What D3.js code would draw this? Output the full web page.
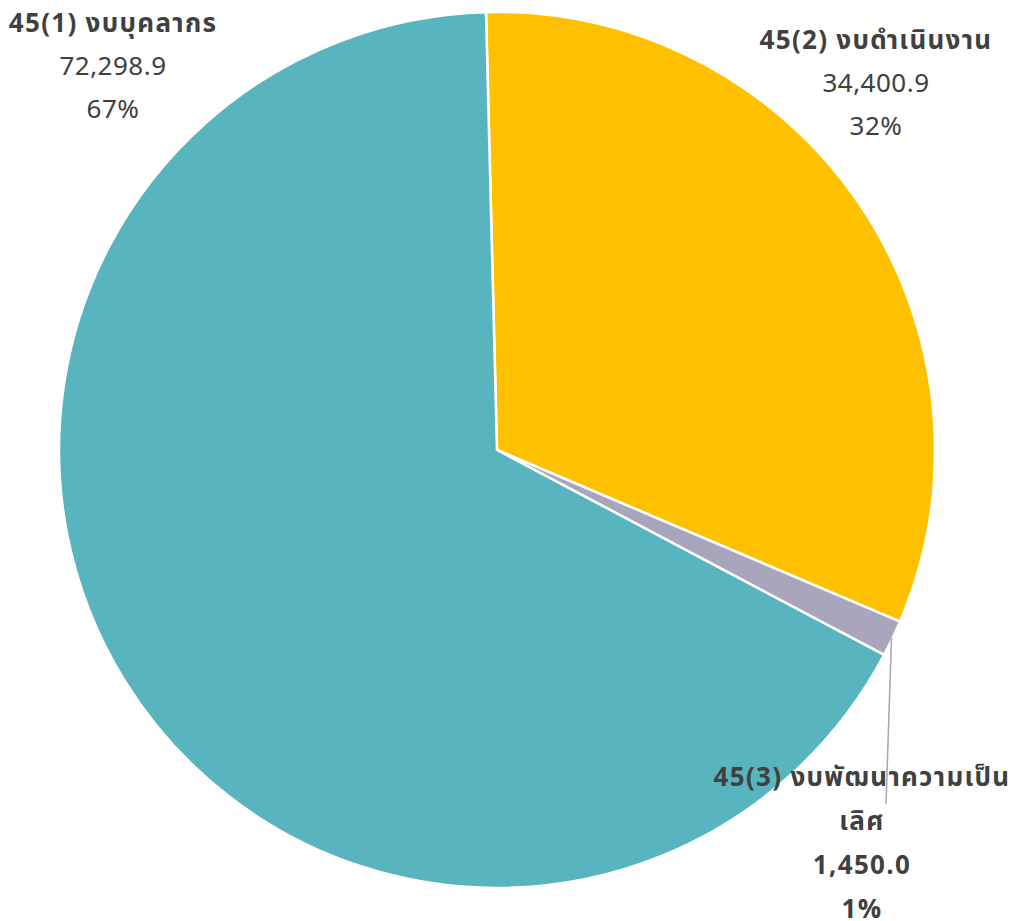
<!DOCTYPE html>
<html>
<head>
<meta charset="utf-8">
<script src="https://cdnjs.cloudflare.com/ajax/libs/d3/7.8.5/d3.min.js"></script>
<style>
  body { margin: 0; background: #fff; }
  text { font-family: "Noto Sans Thai", "Noto Sans", "DejaVu Sans", sans-serif; fill: #404040; }
</style>
</head>
<body>
<div class="chart"></div>
<script>
'use strict';

const width = 1020;
const height = 921;

// data
const categories = ['45(2) งบดำเนินงาน', '45(3) งบพัฒนาความเป็นเลิศ', '45(1) งบบุคลากร'];
const values = [34400.9, 1450.0, 72298.9];
const percents = ['32%', '1%', '67%'];
const colors = ['#FFC000', '#A9A5BC', '#58B5BF'];

// label layout (anchor x, first line y, line gap, bold rows)
const labelLayout = [
    {x: 876, y: 40, gap: 43, lines: d => [d.name, d.valueText, d.pct], bold: [true, false, false]},
    {x: 862, y: 777, gap: 44, lines: d => ['45(3) งบพัฒนาความเป็น', 'เลิศ', d.valueText, d.pct], bold: [true, true, true, true]},
    {x: 113, y: 23, gap: 43, lines: d => [d.name, d.valueText, d.pct], bold: [true, false, false]},
];

const cx = 497;
const cy = 450;
const radius = 438;
const startAngle = -1.44 * Math.PI / 180;

const fmt = d3.format(',.1f');

function run() {
    const svg = d3.select('.chart').append('svg')
        .attr('width', width)
        .attr('height', height);

    const data = categories.map((name, i) => ({
        name,
        value: values[i],
        valueText: fmt(values[i]),
        pct: percents[i],
        color: colors[i],
    }));

    const pie = d3.pie()
        .sort(null)
        .value(d => d.value)
        .startAngle(startAngle)
        .endAngle(startAngle + 2 * Math.PI);

    const arc = d3.arc().innerRadius(0).outerRadius(radius);

    const g = svg.append('g').attr('transform', `translate(${cx},${cy})`);
    const arcs = pie(data);

    g.selectAll('.slice')
        .data(arcs)
        .enter().append('path')
        .attr('class', 'slice')
        .attr('d', arc)
        .attr('fill', d => d.data.color)
        .attr('stroke', '#fff')
        .attr('stroke-width', 2.5)
        .attr('stroke-linejoin', 'round');

    // leader line for the small slice
    const small = arcs[1];
    const mid = (small.startAngle + small.endAngle) / 2;
    const sx = cx + Math.sin(mid) * (radius - 1);
    const sy = cy - Math.cos(mid) * (radius - 1);
    svg.append('line')
        .attr('x1', sx).attr('y1', sy)
        .attr('x2', 886).attr('y2', 804)
        .attr('stroke', '#a6a6a6')
        .attr('stroke-width', 1.5);

    arcs.forEach((a, i) => {
        const lay = labelLayout[i];
        const lines = lay.lines(a.data);
        const t = svg.append('text')
            .attr('text-anchor', 'middle')
            .attr('font-size', 26);
        lines.forEach((ln, j) => {
            t.append('tspan')
                .attr('x', lay.x)
                .attr('y', lay.y + j * lay.gap)
                .attr('dy', '0.35em')
                .attr('font-weight', lay.bold[j] ? 700 : 400)
                .attr('letter-spacing', lay.bold[j] ? 1.3 : 0.5)
                .text(ln);
        });
    });
}

run();
</script>
</body>
</html>
